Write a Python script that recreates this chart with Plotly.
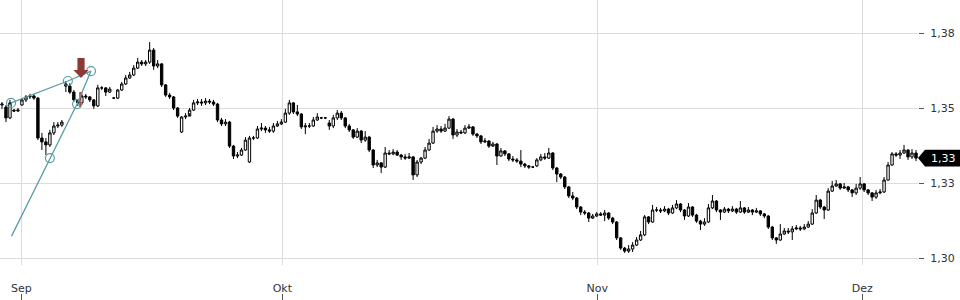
import plotly.graph_objects as go

# ---- data ----
open_ = [1.3510,1.3503,1.3467,1.3493,1.3490,1.3510,1.3527,1.3537,1.3540,1.3533,
         1.3400,1.3387,1.3377,1.3417,1.3440,1.3443,1.3580,1.3573,1.3553,1.3527,
         1.3517,1.3540,1.3537,1.3527,1.3507,1.3567,1.3567,1.3553,1.3533,1.3533,
         1.3560,1.3580,1.3600,1.3610,1.3633,1.3653,1.3647,1.3653,1.3693,1.3640,
         1.3647,1.3577,1.3543,1.3537,1.3500,1.3420,1.3470,1.3473,1.3493,1.3517,
         1.3520,1.3517,1.3523,1.3520,1.3513,1.3460,1.3447,1.3453,1.3373,1.3340,
         1.3343,1.3360,1.3320,1.3400,1.3400,1.3430,1.3433,1.3427,1.3423,1.3440,
         1.3447,1.3453,1.3483,1.3517,1.3487,1.3480,1.3437,1.3440,1.3440,1.3460,
         1.3467,1.3467,1.3450,1.3440,1.3467,1.3483,1.3467,1.3440,1.3427,1.3403,
         1.3423,1.3393,1.3403,1.3360,1.3310,1.3317,1.3303,1.3350,1.3347,1.3353,
         1.3343,1.3337,1.3333,1.3337,1.3277,1.3320,1.3333,1.3360,1.3383,1.3423,
         1.3430,1.3423,1.3433,1.3463,1.3410,1.3420,1.3417,1.3433,1.3437,1.3413,
         1.3407,1.3387,1.3390,1.3373,1.3380,1.3340,1.3357,1.3347,1.3330,1.3327,
         1.3323,1.3313,1.3307,1.3303,1.3307,1.3327,1.3337,1.3333,1.3350,1.3300,
         1.3280,1.3270,1.3237,1.3207,1.3200,1.3170,1.3153,1.3150,1.3133,1.3140,
         1.3147,1.3143,1.3150,1.3133,1.3120,1.3067,1.3033,1.3023,1.3030,1.3043,
         1.3060,1.3077,1.3137,1.3120,1.3160,1.3160,1.3157,1.3163,1.3150,1.3167,
         1.3180,1.3160,1.3140,1.3170,1.3143,1.3123,1.3113,1.3120,1.3167,1.3190,
         1.3160,1.3153,1.3163,1.3157,1.3163,1.3153,1.3167,1.3153,1.3160,1.3153,
         1.3157,1.3147,1.3140,1.3103,1.3067,1.3060,1.3080,1.3090,1.3087,1.3097,
         1.3100,1.3097,1.3103,1.3113,1.3150,1.3193,1.3170,1.3160,1.3223,1.3240,
         1.3247,1.3233,1.3237,1.3227,1.3217,1.3233,1.3247,1.3227,1.3217,1.3203,
         1.3217,1.3220,1.3260,1.3310,1.3347,1.3343,1.3350,1.3360,1.3337,1.3350]

close = [1.3513,1.3467,1.3517,1.3490,1.3493,1.3527,1.3537,1.3540,1.3533,1.3400,
         1.3387,1.3377,1.3417,1.3440,1.3443,1.3453,1.3573,1.3553,1.3527,1.3517,
         1.3540,1.3537,1.3527,1.3507,1.3567,1.3567,1.3553,1.3563,1.3533,1.3560,
         1.3580,1.3600,1.3610,1.3633,1.3653,1.3647,1.3653,1.3693,1.3640,1.3647,
         1.3577,1.3543,1.3537,1.3500,1.3473,1.3470,1.3473,1.3493,1.3517,1.3520,
         1.3517,1.3523,1.3520,1.3513,1.3460,1.3447,1.3453,1.3373,1.3340,1.3343,
         1.3360,1.3393,1.3400,1.3400,1.3430,1.3433,1.3427,1.3423,1.3440,1.3447,
         1.3453,1.3483,1.3517,1.3487,1.3480,1.3437,1.3440,1.3440,1.3460,1.3470,
         1.3467,1.3467,1.3440,1.3467,1.3483,1.3467,1.3440,1.3427,1.3403,1.3423,
         1.3393,1.3403,1.3360,1.3310,1.3317,1.3303,1.3350,1.3347,1.3353,1.3343,
         1.3337,1.3333,1.3337,1.3277,1.3320,1.3333,1.3360,1.3383,1.3423,1.3430,
         1.3423,1.3433,1.3463,1.3410,1.3420,1.3417,1.3433,1.3437,1.3413,1.3407,
         1.3387,1.3390,1.3373,1.3380,1.3340,1.3357,1.3347,1.3330,1.3327,1.3323,
         1.3313,1.3307,1.3303,1.3303,1.3327,1.3337,1.3333,1.3350,1.3300,1.3280,
         1.3270,1.3237,1.3207,1.3200,1.3170,1.3153,1.3150,1.3133,1.3140,1.3147,
         1.3143,1.3150,1.3133,1.3120,1.3067,1.3033,1.3023,1.3030,1.3043,1.3060,
         1.3077,1.3137,1.3120,1.3160,1.3160,1.3157,1.3163,1.3150,1.3167,1.3180,
         1.3160,1.3140,1.3170,1.3143,1.3123,1.3113,1.3120,1.3167,1.3190,1.3160,
         1.3153,1.3163,1.3157,1.3163,1.3153,1.3167,1.3153,1.3160,1.3153,1.3157,
         1.3147,1.3140,1.3103,1.3067,1.3060,1.3080,1.3090,1.3087,1.3097,1.3100,
         1.3097,1.3103,1.3113,1.3150,1.3193,1.3170,1.3160,1.3223,1.3240,1.3247,
         1.3233,1.3237,1.3227,1.3217,1.3233,1.3247,1.3227,1.3217,1.3203,1.3217,
         1.3220,1.3260,1.3310,1.3347,1.3343,1.3350,1.3360,1.3337,1.3350,1.3333]

high = [1.3520,1.3510,1.3527,1.3497,1.3500,1.3533,1.3543,1.3547,1.3547,1.3537,
        1.3417,1.3400,1.3427,1.3453,1.3453,1.3460,1.3590,1.3583,1.3560,1.3530,
        1.3553,1.3547,1.3540,1.3530,1.3577,1.3573,1.3570,1.3570,1.3537,1.3563,
        1.3587,1.3610,1.3620,1.3643,1.3667,1.3660,1.3660,1.3720,1.3700,1.3660,
        1.3650,1.3580,1.3550,1.3540,1.3503,1.3473,1.3483,1.3500,1.3527,1.3530,
        1.3530,1.3533,1.3530,1.3527,1.3517,1.3467,1.3463,1.3457,1.3377,1.3353,
        1.3367,1.3403,1.3407,1.3407,1.3440,1.3450,1.3440,1.3437,1.3450,1.3457,
        1.3463,1.3497,1.3527,1.3520,1.3510,1.3483,1.3450,1.3450,1.3470,1.3483,
        1.3470,1.3470,1.3460,1.3477,1.3493,1.3490,1.3470,1.3447,1.3430,1.3433,
        1.3427,1.3423,1.3407,1.3363,1.3327,1.3320,1.3370,1.3360,1.3363,1.3360,
        1.3347,1.3347,1.3350,1.3340,1.3327,1.3337,1.3370,1.3397,1.3437,1.3443,
        1.3440,1.3447,1.3473,1.3467,1.3430,1.3427,1.3443,1.3447,1.3440,1.3417,
        1.3410,1.3400,1.3393,1.3387,1.3383,1.3367,1.3360,1.3350,1.3340,1.3333,
        1.3360,1.3317,1.3310,1.3307,1.3333,1.3347,1.3350,1.3367,1.3353,1.3303,
        1.3283,1.3273,1.3240,1.3220,1.3203,1.3173,1.3160,1.3153,1.3147,1.3153,
        1.3153,1.3160,1.3153,1.3137,1.3123,1.3070,1.3037,1.3043,1.3053,1.3070,
        1.3090,1.3143,1.3140,1.3177,1.3170,1.3167,1.3173,1.3167,1.3177,1.3193,
        1.3183,1.3163,1.3183,1.3173,1.3147,1.3127,1.3133,1.3180,1.3210,1.3193,
        1.3163,1.3170,1.3167,1.3173,1.3167,1.3190,1.3170,1.3170,1.3163,1.3167,
        1.3160,1.3150,1.3143,1.3107,1.3070,1.3113,1.3100,1.3100,1.3107,1.3110,
        1.3107,1.3113,1.3123,1.3163,1.3210,1.3197,1.3173,1.3233,1.3257,1.3260,
        1.3250,1.3250,1.3240,1.3230,1.3247,1.3270,1.3250,1.3230,1.3220,1.3227,
        1.3230,1.3270,1.3320,1.3353,1.3353,1.3360,1.3377,1.3363,1.3363,1.3360]

low = [1.3497,1.3453,1.3463,1.3487,1.3487,1.3507,1.3520,1.3530,1.3527,1.3393,
       1.3360,1.3343,1.3370,1.3410,1.3433,1.3437,1.3553,1.3547,1.3520,1.3507,
       1.3510,1.3530,1.3520,1.3497,1.3503,1.3560,1.3540,1.3550,1.3530,1.3530,
       1.3557,1.3577,1.3597,1.3607,1.3630,1.3640,1.3640,1.3647,1.3627,1.3633,
       1.3570,1.3537,1.3530,1.3493,1.3467,1.3417,1.3463,1.3483,1.3490,1.3510,
       1.3507,1.3510,1.3513,1.3507,1.3453,1.3440,1.3440,1.3367,1.3330,1.3333,
       1.3340,1.3357,1.3317,1.3393,1.3397,1.3423,1.3417,1.3417,1.3417,1.3437,
       1.3443,1.3450,1.3477,1.3480,1.3473,1.3430,1.3413,1.3433,1.3437,1.3457,
       1.3463,1.3463,1.3427,1.3433,1.3460,1.3460,1.3433,1.3420,1.3397,1.3400,
       1.3383,1.3387,1.3353,1.3300,1.3303,1.3283,1.3300,1.3343,1.3343,1.3340,
       1.3327,1.3327,1.3330,1.3260,1.3270,1.3313,1.3330,1.3357,1.3380,1.3417,
       1.3417,1.3420,1.3430,1.3397,1.3403,1.3413,1.3413,1.3430,1.3407,1.3400,
       1.3380,1.3383,1.3367,1.3370,1.3310,1.3337,1.3340,1.3323,1.3320,1.3317,
       1.3303,1.3300,1.3297,1.3300,1.3303,1.3323,1.3327,1.3330,1.3293,1.3253,
       1.3263,1.3230,1.3200,1.3193,1.3163,1.3143,1.3143,1.3120,1.3130,1.3137,
       1.3140,1.3123,1.3127,1.3113,1.3060,1.3027,1.3017,1.3017,1.3020,1.3040,
       1.3057,1.3073,1.3113,1.3117,1.3153,1.3150,1.3153,1.3143,1.3147,1.3163,
       1.3153,1.3127,1.3137,1.3137,1.3117,1.3093,1.3107,1.3117,1.3163,1.3153,
       1.3127,1.3150,1.3150,1.3153,1.3147,1.3150,1.3147,1.3150,1.3143,1.3150,
       1.3140,1.3133,1.3097,1.3060,1.3047,1.3057,1.3077,1.3080,1.3060,1.3093,
       1.3090,1.3093,1.3100,1.3110,1.3147,1.3163,1.3130,1.3157,1.3220,1.3237,
       1.3227,1.3230,1.3220,1.3203,1.3210,1.3227,1.3220,1.3210,1.3190,1.3197,
       1.3213,1.3217,1.3257,1.3307,1.3337,1.3330,1.3347,1.3327,1.3330,1.3323]

month_labels = ["Sep", "Okt", "Nov", "Dez"]
month_pos = [4.84, 70.23, 149.16, 215.56]          # bar index where each month starts
y_ticks = [1.300, 1.325, 1.350, 1.375]
y_ticktext = ["1,30", "1,33", "1,35", "1,38"]

# drawing annotations (trend lines / pivots / signal arrow)
trend1_x = [2.26, 16.5, 22.3]
trend1_y = [1.3517, 1.3590, 1.3623]
trend2_x = [2.4, 12.0, 18.8, 22.3]
trend2_y = [1.3073, 1.3333, 1.3513, 1.3623]
pivot_x = [2.26, 16.5, 22.3, 12.0, 18.8]
pivot_y = [1.3517, 1.3590, 1.3623, 1.3333, 1.3513]
arrow_x = 19.8
arrow_top, arrow_mid, arrow_tip = 1.3667, 1.3627, 1.3600
signal_idx = 19.6
signal_hi, signal_lo = 1.3553, 1.3503

FONT = "DejaVu Sans"
TXT = "#333333"
TEAL = "#5a9ea7"
GRID = "#dcdcdc"

x = list(range(len(close)))
N = len(close)

fig = go.Figure()
fig.add_trace(go.Candlestick(
    x=x, open=open_, high=high, low=low, close=close,
    increasing=dict(line=dict(color="#000000", width=1), fillcolor="#ffffff"),
    decreasing=dict(line=dict(color="#000000", width=1), fillcolor="#000000"),
    whiskerwidth=0, showlegend=False, hoverinfo="skip"))

fig.add_trace(go.Scatter(x=[signal_idx, signal_idx], y=[signal_hi, signal_lo], mode="lines",
                         line=dict(color="#c0392b", width=2), showlegend=False, hoverinfo="skip"))
fig.add_trace(go.Scatter(x=trend1_x, y=trend1_y, mode="lines",
                         line=dict(color=TEAL, width=1.3), showlegend=False, hoverinfo="skip"))
fig.add_trace(go.Scatter(x=trend2_x, y=trend2_y, mode="lines",
                         line=dict(color=TEAL, width=1.3), showlegend=False, hoverinfo="skip"))
fig.add_trace(go.Scatter(x=pivot_x, y=pivot_y, mode="markers",
                         marker=dict(symbol="circle-open", size=9, color=TEAL, line=dict(width=1.2)),
                         showlegend=False, hoverinfo="skip"))
# dummy trace for the secondary axis that carries the small month tick marks
fig.add_trace(go.Scatter(x=[month_pos[0]], y=[None], xaxis="x2", yaxis="y",
                         mode="markers", showlegend=False, hoverinfo="skip"))

# signal arrow
hw_shaft, hw_head = 0.9, 1.9
fig.add_shape(type="path", xref="x", yref="y", line=dict(width=0), fillcolor="#8e3a34",
              path=(f"M {arrow_x-hw_shaft} {arrow_top} L {arrow_x+hw_shaft} {arrow_top} "
                    f"L {arrow_x+hw_shaft} {arrow_mid} L {arrow_x+hw_head} {arrow_mid} "
                    f"L {arrow_x} {arrow_tip} L {arrow_x-hw_head} {arrow_mid} "
                    f"L {arrow_x-hw_shaft} {arrow_mid} Z"))

# last price tag
last = close[-1]
plot_w = 918.0
hh = 0.0028
x_tip, x_box, x_end = 1.0, 925 / plot_w, 961 / plot_w
fig.add_shape(type="path", xref="paper", yref="y", line=dict(width=0), fillcolor="#000000",
              path=(f"M {x_tip} {last} L {x_box} {last+hh} L {x_end} {last+hh} "
                    f"L {x_end} {last-hh} L {x_box} {last-hh} Z"))
fig.add_annotation(xref="paper", yref="y", x=943 / plot_w, y=last,
                   text=f"{last:.2f}".replace(".", ","), showarrow=False,
                   font=dict(family=FONT, size=11, color="#ffffff"),
                   xanchor="center", yanchor="middle")

y_min = 1.35 - 157 / 3000
y_max = 1.35 + 108 / 3000

fig.update_layout(
    width=960, height=300,
    margin=dict(l=0, r=42, t=0, b=0),
    paper_bgcolor="#ffffff", plot_bgcolor="#ffffff",
    font=dict(family=FONT, size=11, color=TXT),
    boxgap=0.15,
    xaxis=dict(range=[-0.5, N - 0.5], rangeslider=dict(visible=False),
               tickvals=month_pos, ticktext=month_labels, showgrid=True,
               gridcolor=GRID, gridwidth=1, zeroline=False, showline=False,
               ticks="", ticklabelstandoff=15, anchor="y",
               tickfont=dict(family=FONT, size=11, color=TXT)),
    xaxis2=dict(range=[-0.5, N - 0.5], overlaying="x", anchor="free", position=0,
                tickvals=month_pos, showticklabels=False, showgrid=False,
                zeroline=False, showline=False, ticks="inside", ticklen=6,
                tickcolor="#555555", tickwidth=1),
    yaxis=dict(range=[y_min, y_max], side="right", domain=[35 / 300, 1],
               tickvals=y_ticks, ticktext=y_ticktext, showgrid=True,
               gridcolor=GRID, gridwidth=1, zeroline=False, showline=False,
               ticks="outside", ticklen=5, tickcolor="#555555", tickwidth=1,
               ticklabelstandoff=4,
               tickfont=dict(family=FONT, size=11, color=TXT)),
    showlegend=False,
)

fig.write_html("out.html")
